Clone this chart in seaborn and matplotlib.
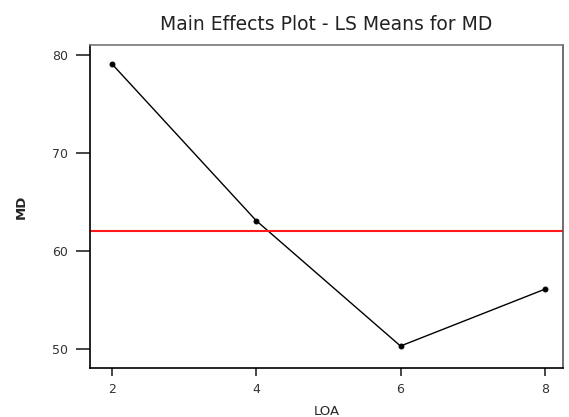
import matplotlib
matplotlib.use("Agg")
import matplotlib.pyplot as plt
import seaborn as sns
import pandas as pd

loa = [2, 4, 6, 8]
md_means = [79.1, 63.1, 50.3, 56.1]
grand_mean = 62.0
x_ticks = [2, 4, 6, 8]
y_ticks = [50, 60, 70, 80]

sns.set_theme(style="ticks")
plt.rcParams['font.family'] = ['DejaVu Sans']

df = pd.DataFrame({"LOA": loa, "MD": md_means})

fig = plt.figure(figsize=(5.69, 4.17), dpi=100)
L, R, T, B = 90, 563, 45, 368
ax = fig.add_axes([L / 569, (417 - B) / 417, (R - L) / 569, (B - T) / 417])
sns.lineplot(data=df, x="LOA", y="MD", ax=ax, color="black", linewidth=1.0,
             marker="o", markersize=3.5, markeredgecolor="black")
ax.axhline(grand_mean, color="#ff1a1a", linewidth=1.5)

ax.set_xlim(1.70, 8.25)
ax.set_ylim(48.06, 81.0)
ax.set_xticks(x_ticks)
ax.set_yticks(y_ticks)
ax.tick_params(axis="y", direction="out", length=10, width=1.2, labelsize=9, pad=6,
               labelcolor="#333333")
ax.tick_params(axis="x", direction="out", length=6, width=1.2, labelsize=9, pad=5,
               labelcolor="#333333")
for s in ax.spines.values():
    s.set_visible(True)
    s.set_linewidth(1.2)
    s.set_color("black")
ax.spines["top"].set_color("#777777")
ax.spines["right"].set_color("#555555")

ax.set_xlabel("LOA", fontsize=9.5, labelpad=6)
ax.set_ylabel("MD", fontsize=9.5, fontweight="bold", labelpad=17)
ax.set_title("Main Effects Plot - LS Means for MD", fontsize=13.5, pad=11,
             color="#222222")

fig.savefig("out.png", dpi=100)
